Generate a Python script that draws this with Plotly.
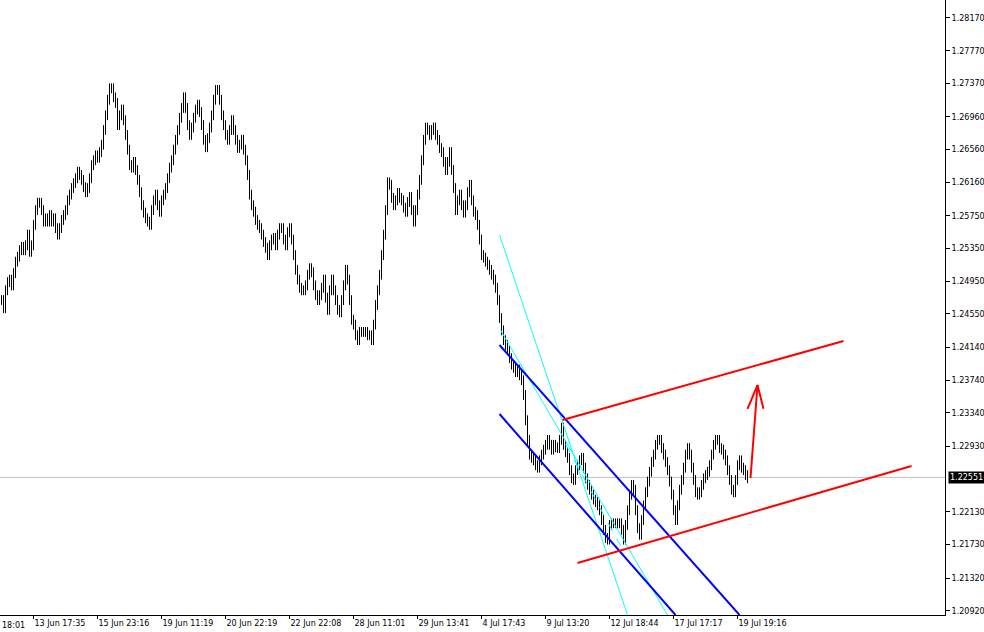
import plotly.graph_objects as go

# ---- data -------------------------------------------------------------
# low / high of every bar (bar index 0..373)
bar_low = [
    1.2466, 1.2456, 1.2456, 1.2478, 1.2488, 1.2484, 1.2484, 1.2499, 1.2513, 1.2519,
    1.2527, 1.2527, 1.2527, 1.2533, 1.2525, 1.2525, 1.2533, 1.2558, 1.2576, 1.2585,
    1.2576, 1.2562, 1.2562, 1.2562, 1.2562, 1.2562, 1.2562, 1.2554, 1.2546, 1.2546,
    1.2554, 1.2564, 1.2570, 1.2576, 1.2588, 1.2595, 1.2603, 1.2609, 1.2615, 1.2619,
    1.2613, 1.2604, 1.2598, 1.2598, 1.2603, 1.2615, 1.2631, 1.2637, 1.2640, 1.2640,
    1.2647, 1.2656, 1.2674, 1.2692, 1.2711, 1.2725, 1.2714, 1.2707, 1.2680, 1.2680,
    1.2692, 1.2686, 1.2668, 1.2650, 1.2631, 1.2628, 1.2628, 1.2625, 1.2613, 1.2598,
    1.2582, 1.2573, 1.2566, 1.2562, 1.2558, 1.2558, 1.2576, 1.2588, 1.2582, 1.2574,
    1.2574, 1.2588, 1.2595, 1.2603, 1.2615, 1.2628, 1.2637, 1.2650, 1.2662, 1.2674,
    1.2689, 1.2701, 1.2701, 1.2680, 1.2668, 1.2668, 1.2677, 1.2689, 1.2699, 1.2696,
    1.2680, 1.2662, 1.2653, 1.2653, 1.2664, 1.2677, 1.2692, 1.2711, 1.2723, 1.2711,
    1.2692, 1.2680, 1.2668, 1.2662, 1.2662, 1.2674, 1.2674, 1.2662, 1.2652, 1.2652,
    1.2656, 1.2650, 1.2637, 1.2619, 1.2595, 1.2582, 1.2574, 1.2564, 1.2558, 1.2554,
    1.2546, 1.2537, 1.2530, 1.2521, 1.2521, 1.2533, 1.2540, 1.2533, 1.2533, 1.2546,
    1.2554, 1.2540, 1.2533, 1.2533, 1.2549, 1.2540, 1.2521, 1.2503, 1.2491, 1.2481,
    1.2478, 1.2478, 1.2478, 1.2484, 1.2497, 1.2500, 1.2484, 1.2472, 1.2466, 1.2466,
    1.2472, 1.2481, 1.2469, 1.2454, 1.2454, 1.2478, 1.2478, 1.2466, 1.2454, 1.2451,
    1.2451, 1.2466, 1.2484, 1.2491, 1.2466, 1.2442, 1.2436, 1.2423, 1.2417, 1.2417,
    1.2427, 1.2427, 1.2427, 1.2423, 1.2423, 1.2417, 1.2417, 1.2436, 1.2460, 1.2478,
    1.2497, 1.2521, 1.2546, 1.2576, 1.2607, 1.2591, 1.2582, 1.2582, 1.2588, 1.2591,
    1.2588, 1.2579, 1.2574, 1.2574, 1.2586, 1.2576, 1.2562, 1.2562, 1.2576, 1.2595,
    1.2613, 1.2637, 1.2662, 1.2674, 1.2668, 1.2668, 1.2674, 1.2668, 1.2662, 1.2652,
    1.2647, 1.2635, 1.2625, 1.2625, 1.2635, 1.2625, 1.2603, 1.2576, 1.2576, 1.2588,
    1.2582, 1.2573, 1.2573, 1.2582, 1.2598, 1.2588, 1.2574, 1.2570, 1.2558, 1.2540,
    1.2521, 1.2518, 1.2513, 1.2509, 1.2503, 1.2497, 1.2491, 1.2481, 1.2466, 1.2444,
    1.2429, 1.2417, 1.2411, 1.2405, 1.2395, 1.2387, 1.2383, 1.2378, 1.2378, 1.2374,
    1.2368, 1.2350, 1.2319, 1.2295, 1.2277, 1.2273, 1.2270, 1.2264, 1.2261, 1.2261,
    1.2270, 1.2277, 1.2283, 1.2289, 1.2289, 1.2283, 1.2283, 1.2286, 1.2285, 1.2285,
    1.2295, 1.2289, 1.2280, 1.2273, 1.2258, 1.2248, 1.2246, 1.2246, 1.2258, 1.2264,
    1.2270, 1.2261, 1.2248, 1.2240, 1.2234, 1.2228, 1.2222, 1.2219, 1.2215, 1.2209,
    1.2197, 1.2185, 1.2175, 1.2173, 1.2173, 1.2191, 1.2193, 1.2193, 1.2193, 1.2193,
    1.2185, 1.2173, 1.2173, 1.2191, 1.2209, 1.2228, 1.2234, 1.2209, 1.2187, 1.2179,
    1.2179, 1.2197, 1.2215, 1.2231, 1.2244, 1.2256, 1.2268, 1.2277, 1.2289, 1.2295,
    1.2285, 1.2277, 1.2268, 1.2258, 1.2244, 1.2228, 1.2209, 1.2197, 1.2197, 1.2215,
    1.2234, 1.2246, 1.2261, 1.2277, 1.2277, 1.2261, 1.2246, 1.2231, 1.2228, 1.2228,
    1.2231, 1.2240, 1.2248, 1.2252, 1.2256, 1.2264, 1.2277, 1.2289, 1.2295, 1.2285,
    1.2283, 1.2277, 1.2270, 1.2258, 1.2246, 1.2234, 1.2231, 1.2231, 1.2246, 1.2264,
    1.2261, 1.2258, 1.2252, 1.2248,
]
bar_high = [
    1.2478, 1.2478, 1.2490, 1.2500, 1.2503, 1.2503, 1.2511, 1.2525, 1.2531, 1.2539,
    1.2543, 1.2543, 1.2545, 1.2558, 1.2558, 1.2545, 1.2570, 1.2588, 1.2597, 1.2597,
    1.2597, 1.2588, 1.2578, 1.2578, 1.2582, 1.2582, 1.2578, 1.2578, 1.2566, 1.2566,
    1.2576, 1.2582, 1.2588, 1.2600, 1.2607, 1.2615, 1.2621, 1.2627, 1.2635, 1.2635,
    1.2631, 1.2625, 1.2616, 1.2615, 1.2627, 1.2643, 1.2649, 1.2655, 1.2655, 1.2659,
    1.2668, 1.2686, 1.2704, 1.2723, 1.2737, 1.2737, 1.2737, 1.2726, 1.2719, 1.2704,
    1.2711, 1.2711, 1.2698, 1.2680, 1.2662, 1.2643, 1.2647, 1.2647, 1.2637, 1.2625,
    1.2610, 1.2594, 1.2585, 1.2578, 1.2574, 1.2588, 1.2600, 1.2607, 1.2607, 1.2594,
    1.2600, 1.2607, 1.2615, 1.2627, 1.2640, 1.2649, 1.2662, 1.2674, 1.2686, 1.2701,
    1.2713, 1.2726, 1.2726, 1.2713, 1.2692, 1.2689, 1.2701, 1.2711, 1.2717, 1.2717,
    1.2708, 1.2692, 1.2674, 1.2676, 1.2689, 1.2704, 1.2723, 1.2735, 1.2735, 1.2735,
    1.2723, 1.2704, 1.2692, 1.2680, 1.2686, 1.2698, 1.2698, 1.2686, 1.2674, 1.2668,
    1.2674, 1.2674, 1.2662, 1.2649, 1.2631, 1.2607, 1.2594, 1.2586, 1.2576, 1.2570,
    1.2566, 1.2558, 1.2549, 1.2542, 1.2545, 1.2552, 1.2554, 1.2554, 1.2558, 1.2566,
    1.2566, 1.2566, 1.2552, 1.2561, 1.2566, 1.2566, 1.2552, 1.2533, 1.2515, 1.2503,
    1.2493, 1.2490, 1.2496, 1.2509, 1.2517, 1.2517, 1.2512, 1.2496, 1.2484, 1.2484,
    1.2493, 1.2503, 1.2503, 1.2481, 1.2490, 1.2503, 1.2503, 1.2490, 1.2478, 1.2466,
    1.2478, 1.2496, 1.2515, 1.2515, 1.2503, 1.2478, 1.2454, 1.2448, 1.2435, 1.2439,
    1.2439, 1.2439, 1.2439, 1.2439, 1.2435, 1.2435, 1.2448, 1.2472, 1.2490, 1.2509,
    1.2533, 1.2558, 1.2588, 1.2622, 1.2622, 1.2619, 1.2603, 1.2600, 1.2609, 1.2609,
    1.2603, 1.2600, 1.2591, 1.2598, 1.2604, 1.2604, 1.2588, 1.2588, 1.2607, 1.2625,
    1.2649, 1.2674, 1.2689, 1.2689, 1.2686, 1.2686, 1.2689, 1.2689, 1.2680, 1.2674,
    1.2664, 1.2659, 1.2647, 1.2647, 1.2659, 1.2659, 1.2637, 1.2615, 1.2600, 1.2607,
    1.2607, 1.2594, 1.2594, 1.2610, 1.2619, 1.2619, 1.2600, 1.2586, 1.2582, 1.2570,
    1.2552, 1.2533, 1.2530, 1.2525, 1.2521, 1.2515, 1.2509, 1.2503, 1.2493, 1.2478,
    1.2456, 1.2441, 1.2429, 1.2423, 1.2417, 1.2407, 1.2399, 1.2395, 1.2393, 1.2393,
    1.2386, 1.2380, 1.2362, 1.2331, 1.2307, 1.2289, 1.2285, 1.2282, 1.2276, 1.2282,
    1.2289, 1.2295, 1.2301, 1.2307, 1.2307, 1.2301, 1.2301, 1.2301, 1.2298, 1.2307,
    1.2322, 1.2322, 1.2301, 1.2292, 1.2285, 1.2270, 1.2260, 1.2270, 1.2276, 1.2282,
    1.2285, 1.2285, 1.2273, 1.2260, 1.2252, 1.2246, 1.2240, 1.2234, 1.2231, 1.2227,
    1.2221, 1.2209, 1.2197, 1.2187, 1.2203, 1.2205, 1.2205, 1.2205, 1.2205, 1.2205,
    1.2205, 1.2197, 1.2203, 1.2221, 1.2240, 1.2252, 1.2252, 1.2246, 1.2221, 1.2199,
    1.2209, 1.2227, 1.2243, 1.2256, 1.2268, 1.2280, 1.2289, 1.2301, 1.2307, 1.2307,
    1.2307, 1.2297, 1.2289, 1.2280, 1.2270, 1.2256, 1.2240, 1.2221, 1.2227, 1.2246,
    1.2258, 1.2273, 1.2289, 1.2297, 1.2297, 1.2289, 1.2273, 1.2258, 1.2243, 1.2243,
    1.2252, 1.2260, 1.2264, 1.2268, 1.2276, 1.2289, 1.2301, 1.2307, 1.2307, 1.2307,
    1.2297, 1.2295, 1.2289, 1.2282, 1.2270, 1.2258, 1.2246, 1.2258, 1.2276, 1.2282,
    1.2282, 1.2273, 1.2270, 1.2264,
]

current_price = 1.22551

y_tick_values = [1.28170, 1.27770, 1.27370, 1.26960, 1.26560, 1.26160, 1.25750,
                 1.25350, 1.24950, 1.24550, 1.24140, 1.23740, 1.23340, 1.22930,
                 1.22130, 1.21730, 1.21320, 1.20920]
y_tick_labels = ["%.5f" % v for v in y_tick_values]

x_tick_bars = [16, 48, 80, 112, 144, 176, 208, 240, 272, 304, 336, 368]
x_tick_labels = ["13 Jun 17:35", "15 Jun 23:16", "19 Jun 11:19", "20 Jun 22:19",
                 "22 Jun 22:08", "28 Jun 11:01", "29 Jun 13:41", "4 Jul 17:43",
                 "9 Jul 13:20", "12 Jul 18:44", "17 Jul 17:17", "19 Jul 19:16"]

# drawn objects (bar index, price)
red_upper_x, red_upper_y = [280.5, 421.0], [1.23253, 1.24220]
red_lower_x, red_lower_y = [288.0, 455.0], [1.21505, 1.22691]
arrow_x, arrow_y = [374.5, 376.5, 378.0], [1.22544, 1.23150, 1.23681]
arrow_head_x, arrow_head_y = [373.0, 378.0, 381.0], [1.23390, 1.23681, 1.23390]
blue_upper_x, blue_upper_y = [249.0, 369.0], [1.24171, 1.20869]
blue_lower_x, blue_lower_y = [249.0, 337.0], [1.23327, 1.20869]
cyan_a_x, cyan_a_y = [249.0, 313.0], [1.25516, 1.20869]
cyan_b_x, cyan_b_y = [249.5, 333.0], [1.24354, 1.20869]
cyan_dash_x, cyan_dash_y = [282.0, 309.5], [1.22960, 1.21716]

# ---- figure -----------------------------------------------------------
idx = list(range(len(bar_low)))

fig = go.Figure()
fig.add_trace(go.Ohlc(
    x=idx, open=bar_low, high=bar_high, low=bar_low, close=bar_high,
    increasing=dict(line=dict(color="black", width=1)),
    decreasing=dict(line=dict(color="black", width=1)),
    tickwidth=0, hoverinfo="skip", showlegend=False))

def add_line(xs, ys, color, width, dash="solid"):
    fig.add_trace(go.Scatter(x=xs, y=ys, mode="lines", hoverinfo="skip",
                             line=dict(color=color, width=width, dash=dash),
                             showlegend=False))

add_line(cyan_a_x, cyan_a_y, "#00ffff", 1)
add_line(cyan_b_x, cyan_b_y, "#00ffff", 1)
add_line(cyan_dash_x, cyan_dash_y, "#00ffff", 1, "dash")
add_line(blue_upper_x, blue_upper_y, "#0000ff", 2)
add_line(blue_lower_x, blue_lower_y, "#0000ff", 2)
add_line(red_upper_x, red_upper_y, "#ff0000", 2)
add_line(red_lower_x, red_lower_y, "#ff0000", 2)
add_line(arrow_x, arrow_y, "#ff0000", 2)
add_line(arrow_head_x, arrow_head_y, "#ff0000", 2)

font = dict(family="DejaVu Sans", size=8, color="black")

fig.add_shape(type="line", xref="paper", x0=0, x1=1, yref="y",
              y0=current_price, y1=current_price,
              line=dict(color="#c0c0c0", width=1), layer="below")
fig.add_annotation(xref="paper", x=1.0, yref="y", y=current_price,
                   text="%.5f" % current_price, showarrow=False,
                   xanchor="left", xshift=3, bgcolor="black",
                   font=dict(family="DejaVu Sans", size=8, color="white"),
                   borderpad=1)
fig.add_annotation(xref="paper", x=0, yref="paper", y=0, yshift=-4,
                   text="18:01", showarrow=False, xanchor="left",
                   yanchor="top", font=font)

fig.update_layout(
    width=984, height=632,
    margin=dict(l=0, r=39, t=0, b=17, autoexpand=False),
    paper_bgcolor="white", plot_bgcolor="white",
    xaxis=dict(range=[-0.75, 471.75], rangeslider=dict(visible=False),
               tickvals=x_tick_bars, ticktext=x_tick_labels,
               ticks="outside", ticklen=3, tickcolor="black",
               ticklabelposition="outside right", automargin=False,
               showline=True, linecolor="black", linewidth=1,
               showgrid=False, zeroline=False, tickfont=font),
    yaxis=dict(range=[1.208685, 1.2839], side="right",
               tickvals=y_tick_values, ticktext=y_tick_labels,
               ticks="outside", ticklen=4, tickcolor="black",
               automargin=False,
               showline=True, linecolor="black", linewidth=1,
               showgrid=False, zeroline=False, tickfont=font),
)

fig.write_html("out.html",
               config={"displayModeBar": False},
               post_script="document.body.style.margin='0';"
                           "document.body.style.overflow='hidden';")
